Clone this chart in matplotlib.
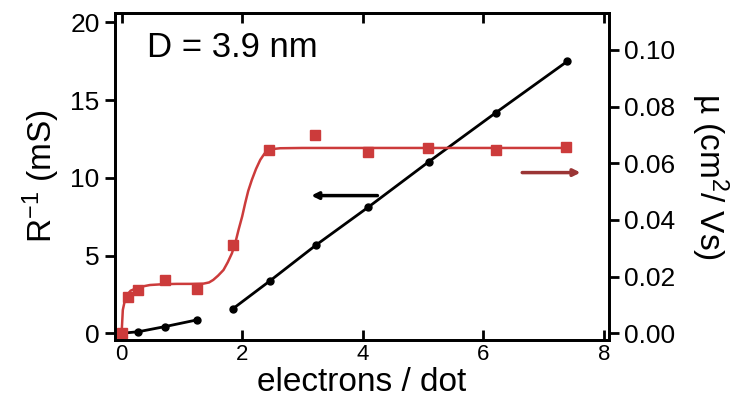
import matplotlib
matplotlib.use("Agg")
import matplotlib.pyplot as plt

plt.rcParams["font.family"] = ["Liberation Sans", "DejaVu Sans"]
plt.rcParams["mathtext.default"] = "regular"

# conductance R^-1 (mS), two linear regions
cond_x1 = [0.0, 0.28, 0.72, 1.25]
cond_y1 = [0.0, 0.1, 0.43, 0.86]
cond_x2 = [1.84, 2.46, 3.23, 4.09, 5.10, 6.21, 7.39]
cond_y2 = [1.56, 3.37, 5.69, 8.11, 11.05, 14.2, 17.49]

# mobility (cm^2/Vs)
mob_x = [0.0, 0.11, 0.28, 0.72, 1.25, 1.84, 2.45, 3.21, 4.09, 5.09, 6.21, 7.38]
mob_y = [0.0, 0.0126, 0.0153, 0.0188, 0.0155, 0.0312, 0.0647, 0.0700, 0.0638, 0.0653, 0.0647, 0.0659]

# fit curve for mobility
fit_x = [0.0, 0.02, 0.05, 0.09, 0.15, 0.25, 0.35, 0.47, 0.7, 0.92, 1.15, 1.36, 1.45,
         1.52, 1.6, 1.69, 1.76, 1.83, 1.89, 1.94, 2.0, 2.05, 2.1, 2.16, 2.23, 2.30,
         2.37, 2.43, 2.5, 2.63, 3.0, 5.0, 7.4]
fit_y = [0.0, 0.0082, 0.0112, 0.0135, 0.0150, 0.0159, 0.0165, 0.0170, 0.0173, 0.0174,
         0.0174, 0.0175, 0.0179, 0.0188, 0.0203, 0.0223, 0.0250, 0.0282, 0.0322, 0.0365,
         0.0412, 0.0459, 0.0502, 0.0541, 0.0580, 0.0612, 0.0634, 0.0645, 0.0650, 0.0653,
         0.0654, 0.0654, 0.0654]

red = "#cc3b3b"
dark_red = "#9b3535"

fig = plt.figure(figsize=(7.39, 3.99), dpi=100)
ax = fig.add_axes([0.1556, 0.148, 0.668, 0.819])
ax2 = ax.twinx()

ax.plot(cond_x1, cond_y1, "-o", color="black", lw=2, ms=5, zorder=3)
ax.plot(cond_x2, cond_y2, "-o", color="black", lw=2, ms=5, zorder=3)

ax2.plot(fit_x, fit_y, "-", color=red, lw=1.8)
ax2.plot(mob_x, mob_y, "s", color=red, ms=6.5, mec=red)

ax.set_xlim(-0.11, 8.08)
ax.set_ylim(-0.43, 20.6)
ax2.set_ylim(-0.0024, 0.113)

ax.set_xticks([0, 2, 4, 6, 8])
ax.set_yticks([0, 5, 10, 15, 20])
ax2.set_yticks([0.0, 0.02, 0.04, 0.06, 0.08, 0.10])
ax2.set_yticklabels(["0.00", "0.02", "0.04", "0.06", "0.08", "0.10"])

for a in (ax, ax2):
    for s in a.spines.values():
        s.set_linewidth(2)
ax.tick_params(axis="x", direction="in", top=True, length=7, width=2, labelsize=16, pad=3)
ax.tick_params(axis="y", direction="out", length=7, width=2, labelsize=19, pad=4)
ax2.tick_params(axis="y", direction="out", length=7, width=2, labelsize=19, pad=4)

ax.set_xlabel("electrons / dot", fontsize=24, labelpad=1)
ax.set_ylabel("R$^{-1}$ (mS)", fontsize=24, labelpad=6)
ax2.set_ylabel("µ (cm$^{2}$/ Vs)", fontsize=24, rotation=270, labelpad=40)

ax.text(0.42, 18.4, "D = 3.9 nm", fontsize=25, va="center", ha="left")

ax.annotate("", xy=(3.10, 8.86), xytext=(4.29, 8.86),
            arrowprops=dict(arrowstyle="-|>", color="black", lw=2.5, mutation_scale=10))
ax2.annotate("", xy=(7.66, 0.0567), xytext=(6.6, 0.0567),
             arrowprops=dict(arrowstyle="-|>", color=dark_red, lw=2.5, mutation_scale=10))

fig.savefig("out.png", dpi=100)
